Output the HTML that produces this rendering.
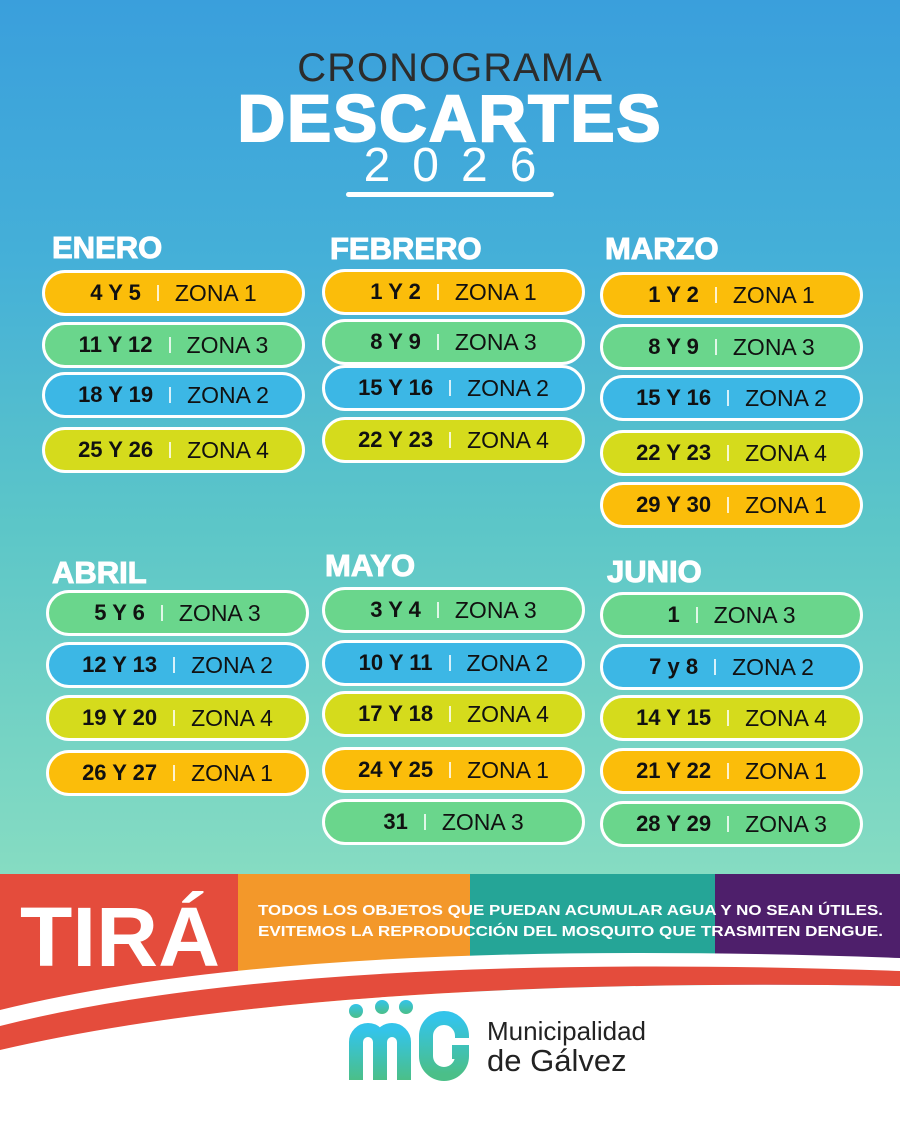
<!DOCTYPE html>
<html><head><meta charset="utf-8"><style>
*{margin:0;padding:0;box-sizing:border-box}
body{width:900px;height:1125px;position:relative;overflow:hidden;font-family:"Liberation Sans",sans-serif;background:#fff}
.bg{position:absolute;left:0;top:0;width:900px;height:875px;background:linear-gradient(180deg,#3a9fdc 0%,#45b0d8 30%,#5cc6c8 60%,#86dcc2 100%)}
.t{position:absolute;left:0;width:900px;text-align:center}
.m{position:absolute;color:#fff;font-weight:900;font-size:31px;letter-spacing:0px;-webkit-text-stroke:1px #fff}
.p{position:absolute;height:46px;width:263px;border:3px solid #fff;border-radius:23px;display:flex;align-items:center;justify-content:center;color:#111;font-size:23px;white-space:nowrap}
.p b{font-weight:700;font-size:22px}
.p i{font-style:normal;display:inline-block;width:2px;height:16px;background:#fff;margin:0 16px;opacity:.8}
.y{background:#fbbd0a}.g{background:#6ad68c}.b{background:#3cb7e5}.l{background:#d5db1c}
</style></head><body>
<div class="bg"></div>
<div class="t" style="top:46px;font-size:40px;color:#2c2c2c;letter-spacing:1px">CRONOGRAMA</div>
<div class="t" style="top:80px;font-size:66px;color:#fff;font-weight:900;-webkit-text-stroke:2px #fff;letter-spacing:2px">DESCARTES</div>
<div class="t" style="top:138px;font-size:48px;color:#fff;letter-spacing:22px;padding-left:22px">2026</div>
<div style="position:absolute;left:346px;top:192px;width:208px;height:5px;border-radius:3px;background:#fff"></div>

<div class="m" style="left:52px;top:230px">ENERO</div>
<div class="m" style="left:330px;top:231px">FEBRERO</div>
<div class="m" style="left:605px;top:231px">MARZO</div>
<div class="m" style="left:52px;top:555px">ABRIL</div>
<div class="m" style="left:325px;top:548px">MAYO</div>
<div class="m" style="left:607px;top:554px">JUNIO</div>

<div class="p y" style="left:42px;top:270px"><b>4 Y 5</b><i></i>ZONA 1</div>
<div class="p g" style="left:42px;top:322px"><b>11 Y 12</b><i></i>ZONA 3</div>
<div class="p b" style="left:42px;top:372px"><b>18 Y 19</b><i></i>ZONA 2</div>
<div class="p l" style="left:42px;top:427px"><b>25 Y 26</b><i></i>ZONA 4</div>

<div class="p y" style="left:322px;top:269px"><b>1 Y 2</b><i></i>ZONA 1</div>
<div class="p g" style="left:322px;top:319px"><b>8 Y 9</b><i></i>ZONA 3</div>
<div class="p b" style="left:322px;top:365px"><b>15 Y 16</b><i></i>ZONA 2</div>
<div class="p l" style="left:322px;top:417px"><b>22 Y 23</b><i></i>ZONA 4</div>

<div class="p y" style="left:600px;top:272px"><b>1 Y 2</b><i></i>ZONA 1</div>
<div class="p g" style="left:600px;top:324px"><b>8 Y 9</b><i></i>ZONA 3</div>
<div class="p b" style="left:600px;top:375px"><b>15 Y 16</b><i></i>ZONA 2</div>
<div class="p l" style="left:600px;top:430px"><b>22 Y 23</b><i></i>ZONA 4</div>
<div class="p y" style="left:600px;top:482px"><b>29 Y 30</b><i></i>ZONA 1</div>

<div class="p g" style="left:46px;top:590px"><b>5 Y 6</b><i></i>ZONA 3</div>
<div class="p b" style="left:46px;top:642px"><b>12 Y 13</b><i></i>ZONA 2</div>
<div class="p l" style="left:46px;top:695px"><b>19 Y 20</b><i></i>ZONA 4</div>
<div class="p y" style="left:46px;top:750px"><b>26 Y 27</b><i></i>ZONA 1</div>

<div class="p g" style="left:322px;top:587px"><b>3 Y 4</b><i></i>ZONA 3</div>
<div class="p b" style="left:322px;top:640px"><b>10 Y 11</b><i></i>ZONA 2</div>
<div class="p l" style="left:322px;top:691px"><b>17 Y 18</b><i></i>ZONA 4</div>
<div class="p y" style="left:322px;top:747px"><b>24 Y 25</b><i></i>ZONA 1</div>
<div class="p g" style="left:322px;top:799px"><b>31</b><i></i>ZONA 3</div>

<div class="p g" style="left:600px;top:592px"><b>1</b><i></i>ZONA 3</div>
<div class="p b" style="left:600px;top:644px"><b>7 y 8</b><i></i>ZONA 2</div>
<div class="p l" style="left:600px;top:695px"><b>14 Y 15</b><i></i>ZONA 4</div>
<div class="p y" style="left:600px;top:748px"><b>21 Y 22</b><i></i>ZONA 1</div>
<div class="p g" style="left:600px;top:801px"><b>28 Y 29</b><i></i>ZONA 3</div>

<svg style="position:absolute;left:0;top:874px" width="900" height="251">
<rect x="0" y="0" width="238" height="180" fill="#e44c3c"/>
<rect x="238" y="0" width="232" height="140" fill="#f3982a"/>
<rect x="470" y="0" width="245" height="140" fill="#25a597"/>
<rect x="715" y="0" width="185" height="140" fill="#4e1f6b"/>
<!-- red swoosh below stripe -->
<path d="M0 150 Q300 75 900 96 L900 112 Q320 102 0 176Z" fill="#e44c3c"/>
<!-- white stripe -->
<path d="M0 136 Q300 62 900 84 L900 97 Q300 76 0 152Z" fill="#fff"/>
<!-- white below -->
<path d="M0 176 Q320 102 900 112 L900 251 L0 251Z" fill="#fff"/>
<text x="20" y="92" font-family="Liberation Sans" font-weight="900" font-size="84" fill="#fff" textLength="200" lengthAdjust="spacingAndGlyphs">TIRÁ</text>
<text x="258" y="41" font-family="Liberation Sans" font-weight="700" font-size="15" fill="#fff" textLength="625" lengthAdjust="spacingAndGlyphs">TODOS LOS OBJETOS QUE PUEDAN ACUMULAR AGUA Y NO SEAN ÚTILES.</text>
<text x="258" y="62" font-family="Liberation Sans" font-weight="700" font-size="15" fill="#fff" textLength="625" lengthAdjust="spacingAndGlyphs">EVITEMOS LA REPRODUCCIÓN DEL MOSQUITO QUE TRASMITEN DENGUE.</text>
<defs><linearGradient id="lg" x1="0" y1="0" x2="0" y2="1"><stop offset="0" stop-color="#33c4ea"/><stop offset="1" stop-color="#4bbf88"/></linearGradient></defs>
<g fill="url(#lg)">
<circle cx="356" cy="137" r="7"/><circle cx="382" cy="133" r="7"/><circle cx="406" cy="133" r="7"/>
</g>
<g fill="none" stroke="url(#lg)" stroke-width="14">
<path d="M356 206 V168 a12 12 0 0 1 24 0 V206 M380 168 a12 12 0 0 1 24 0 V206"/>
<path d="M462 164 V162 a18 18 0 0 0 -36 0 V182 a18 18 0 0 0 36 0 V178 h-10"/>
</g>
<text x="487" y="166" font-family="Liberation Sans" font-size="26" fill="#222">Municipalidad</text>
<text x="487" y="197" font-family="Liberation Sans" font-size="31" fill="#222">de Gálvez</text>
</svg>
</body></html>
